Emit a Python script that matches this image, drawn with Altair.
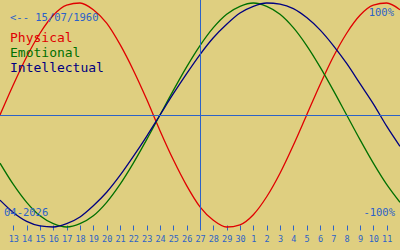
import altair as alt
import pandas as pd

# day offsets (0 = the 13th), values in [-1, 1]
days = list(range(-1, 30))
physical = [0.00, 0.27, 0.52, 0.73, 0.89, 0.98, 1.00, 0.94, 0.82, 0.63, 0.40, 0.14,
            -0.14, -0.40, -0.63, -0.82, -0.94, -1.00, -0.98, -0.89, -0.73, -0.52, -0.27,
            0.00, 0.27, 0.52, 0.73, 0.89, 0.98, 1.00, 0.94]
emotional = [-0.43, -0.62, -0.78, -0.90, -0.97, -1.00, -0.97, -0.90, -0.78, -0.62, -0.43,
             -0.22, 0.00, 0.22, 0.43, 0.62, 0.78, 0.90, 0.97, 1.00, 0.97, 0.90, 0.78, 0.62,
             0.43, 0.22, 0.00, -0.22, -0.43, -0.62, -0.78]
intellectual = [-0.76, -0.87, -0.95, -0.99, -1.00, -0.97, -0.91, -0.81, -0.69, -0.54, -0.37,
                -0.19, 0.00, 0.19, 0.37, 0.54, 0.69, 0.81, 0.91, 0.97, 1.00, 0.99, 0.95, 0.87,
                0.76, 0.62, 0.46, 0.28, 0.10, -0.10, -0.28]
tick_labels = ["13", "14", "15", "16", "17", "18", "19", "20", "21", "22", "23", "24", "25",
               "26", "27", "28", "29", "30", "1", "2", "3", "4", "5", "6", "7", "8", "9",
               "10", "11"]
series_names = ["Physical", "Emotional", "Intellectual"]
series_colors = ["#e00000", "#007000", "#000080"]
today_index = 14

BG = "#dfcf80"
BLUE = "#2c62c8"
MONO = "DejaVu Sans Mono"

rows = []
for name, vals in zip(series_names, [physical, emotional, intellectual]):
    for d, v in zip(days, vals):
        rows.append({"day": d, "value": v, "series": name})
df = pd.DataFrame(rows)

xscale = alt.Scale(domain=[-1, 29], nice=False, zero=False)
yscale = alt.Scale(domain=[-0.982143, 1.026786], nice=False, zero=False)

label_arr = "[" + ",".join("'" + s + "'" for s in tick_labels) + "]"

xaxis = alt.Axis(values=list(range(len(tick_labels))), labelExpr=label_arr + "[datum.value]",
                 title=None, grid=False, domain=False, tickColor=BLUE, tickSize=5,
                 labelColor=BLUE, labelFont=MONO, labelFontSize=8.5, labelPadding=4,
                 labelOverlap=False, labelFlush=False)

lines = alt.Chart(df).mark_line(strokeWidth=1.3, interpolate="monotone", clip=False).encode(
    x=alt.X("day:Q", scale=xscale, axis=xaxis),
    y=alt.Y("value:Q", scale=yscale, axis=None),
    color=alt.Color("series:N", scale=alt.Scale(domain=series_names, range=series_colors), legend=None),
)

zero_df = pd.DataFrame({"value": [0]})
zero_line = alt.Chart(zero_df).mark_rule(color=BLUE, strokeWidth=1, yOffset=0.5).encode(
    y=alt.Y("value:Q", scale=yscale, axis=None), x=alt.value(0), x2=alt.value(400)
)

today_df = pd.DataFrame({"day": [today_index]})
today_line = alt.Chart(today_df).mark_rule(color=BLUE, strokeWidth=1, xOffset=0.5).encode(
    x=alt.X("day:Q", scale=xscale, axis=xaxis), y=alt.value(0), y2=alt.value(230)
)

def txt(s, x, y, color, size, align="left"):
    return alt.Chart(pd.DataFrame({"t": [s]})).mark_text(
        align=align, baseline="alphabetic", font=MONO, fontSize=size, color=color
    ).encode(text="t:N", x=alt.value(x), y=alt.value(y))

texts = [
    txt("<-- 15/07/1960", 10, 21, BLUE, 10.5),
    txt("100%", 394, 16, BLUE, 10.5, "right"),
    txt("-100%", 395, 216, BLUE, 10.5, "right"),
    txt("04-2026", 4, 216, BLUE, 10.5),
]
for i, (n, c) in enumerate(zip(series_names, series_colors)):
    texts.append(txt(n, 10, 42 + 15 * i, c, 13))

chart = alt.layer(lines, zero_line, today_line, *texts).properties(
    width=400, height=225,
    autosize=alt.AutoSizeParams(type="none"),
    padding={"left": 0, "right": 0, "top": 0, "bottom": 25},
    background=BG,
).configure_view(stroke=None, fill=BG)

chart.save("out.html", embed_options={"renderer": "svg", "actions": False})
